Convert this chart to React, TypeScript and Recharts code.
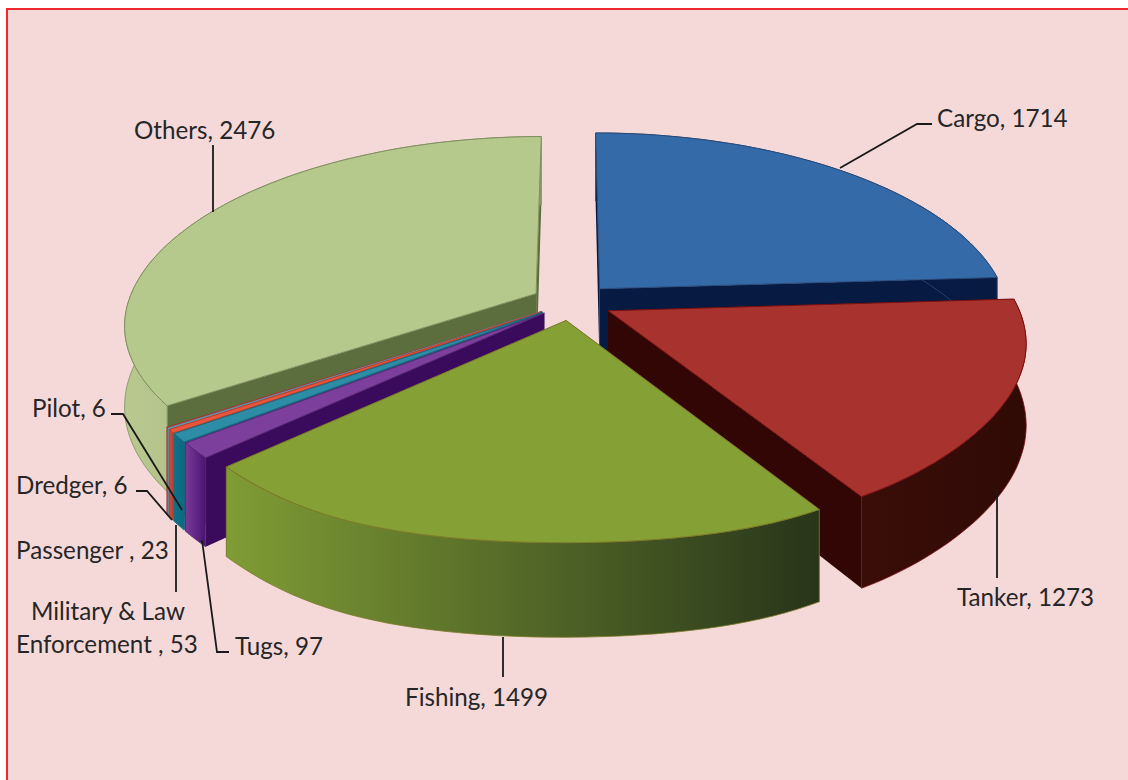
import React from "react";
import { PieChart, Pie } from "recharts";

const categories = ["Cargo", "Others", "Pilot", "Dredger", "Passenger ", "Military & Law Enforcement ", "Tugs", "Fishing", "Tanker"];
const values = [1714, 2476, 6, 6, 23, 53, 97, 1499, 1273];

const topColors = ["#356aa8", "#b5c98c", "#c0483f", "#6fa8c8", "#e8553a", "#2d8ca6", "#7c3f9c", "#85a035", "#a8322d"];
const faceColors = ["#071a42", "#5d6e3e", "#a03a34", "#4a86a8", "#c8462f", "#0c6a80", "#3a0a5c", "#3a4a18", "#330606"];
const wallStart = ["#0a1c48", "#b9c88f", "#b04038", "#6fa0c0", "#c8503c", "#10708a", "#7a3a98", "#7f9c35", "#3a0d08"];
const wallEnd = ["#071a42", "#8b9868", "#a03a34", "#4a86a8", "#b8402c", "#0c6a80", "#4a1470", "#28351a", "#300a06"];
const strokeColors = ["#2a4a78", "#7f8f60", "#a03a34", "#5a90b0", "#b8402c", "#1f6a80", "#5a2a78", "#7d7a28", "#7a1010"];

const labelAnchors = [
  { x: 937, y: 117, line: [[840, 168], [917, 124], [932, 124]] },
  { x: 134, y: 129, line: [[213, 145], [213, 212]] },
  { x: 32, y: 407, line: [[111, 414], [123, 414], [182, 510]] },
  { x: 16, y: 484, line: [[136, 491], [147, 491], [172, 520]] },
  { x: 16, y: 549, line: [] },
  { x: 16, y: 610, line: [[176, 525], [176, 592]] },
  { x: 235, y: 645, line: [[202, 540], [217, 652], [229, 652]] },
  { x: 405, y: 696, line: [[503, 637], [503, 677]] },
  { x: 957, y: 596, line: [[997, 490], [997, 578]] },
];

const tableData = categories.map((name, i) => ({ name, value: values[i] }));
const total = values.reduce((a, b) => a + b, 0);
const firstAngle = 90 - (values[0] / total) * 360;
const MILITARY = 5;
const TUGS = 6;
const FISHING = 7;

const OFFSET = 0.1;
const PERSP = 0.15;
const FLATTEN = 0.445;
const WALL = 79;

function project(cx: number, cy: number, R: number, X: number, Y: number, down: boolean) {
  const k = 1 / (1 - PERSP * Y);
  const kx = Y > 0 ? 1 + 0.17 * Y + 0.13 * Math.pow(Y, 8) : 1 / (1 - 0.17 * Y);
  return [cx + X * R * kx, cy + Y * 411 * FLATTEN * k + (down ? WALL * k : 0)];
}

function pathOf(pts: number[][]) {
  return "M" + pts.map((p) => p[0].toFixed(1) + " " + p[1].toFixed(1)).join("L") + "Z";
}

function Slice3D(props: any) {
  const { cx, cy, outerRadius, startAngle, endAngle, index } = props;
  const a0 = (startAngle * Math.PI) / 180;
  const a1 = (endAngle * Math.PI) / 180;
  const mid = (a0 + a1) / 2;
  const small = index >= 2 && index <= TUGS;
  const ox = Math.cos(mid) * OFFSET * (small ? 0.9 : 1);
  const oy = -Math.sin(mid) * OFFSET * (small ? 0.9 : 1);
  const steps = Math.max(2, Math.ceil(Math.abs(a1 - a0) / 0.03));
  const arc: number[][] = [];
  for (let i = 0; i <= steps; i++) {
    const a = a0 + ((a1 - a0) * i) / steps;
    arc.push([ox + Math.cos(a), oy - Math.sin(a)]);
  }
  const P = (q: number[], d: boolean) => project(cx, cy, outerRadius, q[0], q[1], d);
  const apex = [ox, oy];
  const top = [P(apex, false), ...arc.map((q) => P(q, false))];
  const wall = [...arc.map((q) => P(q, false)), ...arc.slice().reverse().map((q) => P(q, true))];
  const faceA = [P(apex, false), P(arc[0], false), P(arc[0], true), P(apex, true)];
  const last = arc[arc.length - 1];
  const faceB = [P(apex, false), P(last, false), P(last, true), P(apex, true)];
  const xs = arc.map((q) => P(q, false)[0]);
  const gid = "wall" + index;
  return (
    <g>
      <defs>
        <linearGradient id={gid} gradientUnits="userSpaceOnUse" x1={Math.min(...xs)} x2={Math.max(...xs)} y1={0} y2={0}>
          <stop offset="0%" stopColor={wallStart[index]} />
          <stop offset="100%" stopColor={wallEnd[index]} />
        </linearGradient>
      </defs>
      <path d={pathOf(faceA)} fill={faceColors[index]} />
      <path d={pathOf(faceB)} fill={faceColors[index]} />
      <path d={pathOf(wall)} fill={`url(#${gid})`} stroke={strokeColors[index]} strokeWidth={0.8} />
      <path d={pathOf(top)} fill={topColors[index]} stroke={strokeColors[index]} strokeWidth={1} />
    </g>
  );
}

function AllButFishing(props: any) {
  return props.index === FISHING ? <g /> : <Slice3D {...props} />;
}
function OnlyFishing(props: any) {
  return props.index === FISHING ? <Slice3D {...props} /> : <g />;
}

function SliceLabel(props: any) {
  const { index, name, value } = props;
  const a = labelAnchors[index];
  const lines = index === MILITARY ? ["Military & Law", `Enforcement , ${value}`] : [`${name}, ${value}`];
  return (
    <g>
      {a.line.length > 0 && (
        <polyline points={a.line.map((p) => p.join(",")).join(" ")} fill="none" stroke="#1a1a1a" strokeWidth={1.8} />
      )}
      {lines.map((t, i) => (
        <text
          key={i}
          x={index === MILITARY && i === 0 ? 31 : a.x}
          y={a.y + i * 33}
          dominantBaseline="central"
          fontFamily="Lato, 'Open Sans', sans-serif"
          fontSize={24.2}
          fill="#262626"
        >
          {t}
        </text>
      ))}
    </g>
  );
}

export default function App() {
  return (
    <div style={{ position: "fixed", left: 0, top: 0, width: 1128, height: 780, background: "#ffffff", overflow: "hidden" }}>
      <div
        style={{
          position: "absolute",
          left: 6,
          top: 8,
          width: 1122,
          height: 772,
          boxSizing: "border-box",
          background: "#f5d9d9",
          borderTop: "2px solid #ee2a2f",
          borderLeft: "2px solid #ee2a2f",
        }}
      />
      <div style={{ position: "absolute", left: 0, top: 0 }}>
        <PieChart width={1128} height={780} margin={{ top: 0, right: 0, bottom: 0, left: 0 }}>
          <Pie
            data={tableData}
            dataKey="value"
            nameKey="name"
            cx={572}
            cy={302}
            innerRadius={0}
            outerRadius={408}
            startAngle={firstAngle}
            endAngle={firstAngle + 360}
            stroke="none"
            shape={AllButFishing}
            isAnimationActive={false}
          />
          <Pie
            data={tableData}
            dataKey="value"
            nameKey="name"
            cx={572}
            cy={302}
            innerRadius={0}
            outerRadius={408}
            startAngle={firstAngle}
            endAngle={firstAngle + 360}
            stroke="none"
            shape={OnlyFishing}
            label={SliceLabel}
            labelLine={false}
            isAnimationActive={false}
          />
        </PieChart>
      </div>
    </div>
  );
}
